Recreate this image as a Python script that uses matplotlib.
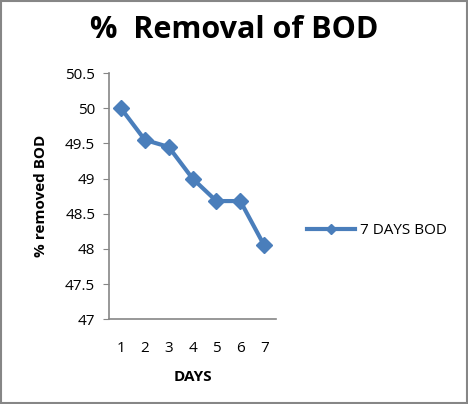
import matplotlib
matplotlib.use("Agg")
import matplotlib.pyplot as plt
from matplotlib.patches import Rectangle

# data
days = [1, 2, 3, 4, 5, 6, 7]
bod_removed = [50.0, 49.55, 49.45, 49.0, 48.68, 48.68, 48.05]
yticks = [47, 47.5, 48, 48.5, 49, 49.5, 50, 50.5]

plt.rcParams['font.family'] = ['Open Sans', 'DejaVu Sans']

fig = plt.figure(figsize=(4.68, 4.04), dpi=100)
ax = fig.add_axes([0.233, 0.210, 0.357, 0.609])

ax.plot(days, bod_removed, color='#4A7EBB', lw=3, marker='D', ms=8,
        label='7 DAYS BOD')

ax.set_xlim(0.5, 7.5)
ax.set_ylim(47, 50.5)
ax.set_xticks(days)
ax.set_yticks(yticks)
ax.set_yticklabels([('%g' % v) for v in yticks])
ax.tick_params(axis='x', length=0, labelsize=11, pad=16)
ax.tick_params(axis='y', length=4, color='#868686', labelsize=11, pad=6)
for s in ['top', 'right']:
    ax.spines[s].set_visible(False)
for s in ['left', 'bottom']:
    ax.spines[s].set_color('#868686')
    ax.spines[s].set_linewidth(1.2)

ax.set_xlabel('DAYS', fontsize=11, fontweight='bold', labelpad=10)
ax.set_ylabel('% removed BOD', fontsize=11, fontweight='bold', labelpad=12)

fig.text(0.5, 0.925, '%  Removal of BOD', ha='center', va='center',
         fontsize=22, fontweight='bold')

leg = ax.legend(loc='center left', bbox_to_anchor=(1.1, 0.36), frameon=False,
                fontsize=11, handlelength=3.2, handletextpad=0.3, markerscale=0.7)

# outer frame
fig.patches.append(Rectangle((0.003, 0.003), 0.994, 0.994, transform=fig.transFigure,
                             fill=False, edgecolor='#868686', lw=1.5))

fig.savefig('out.png', dpi=100)
